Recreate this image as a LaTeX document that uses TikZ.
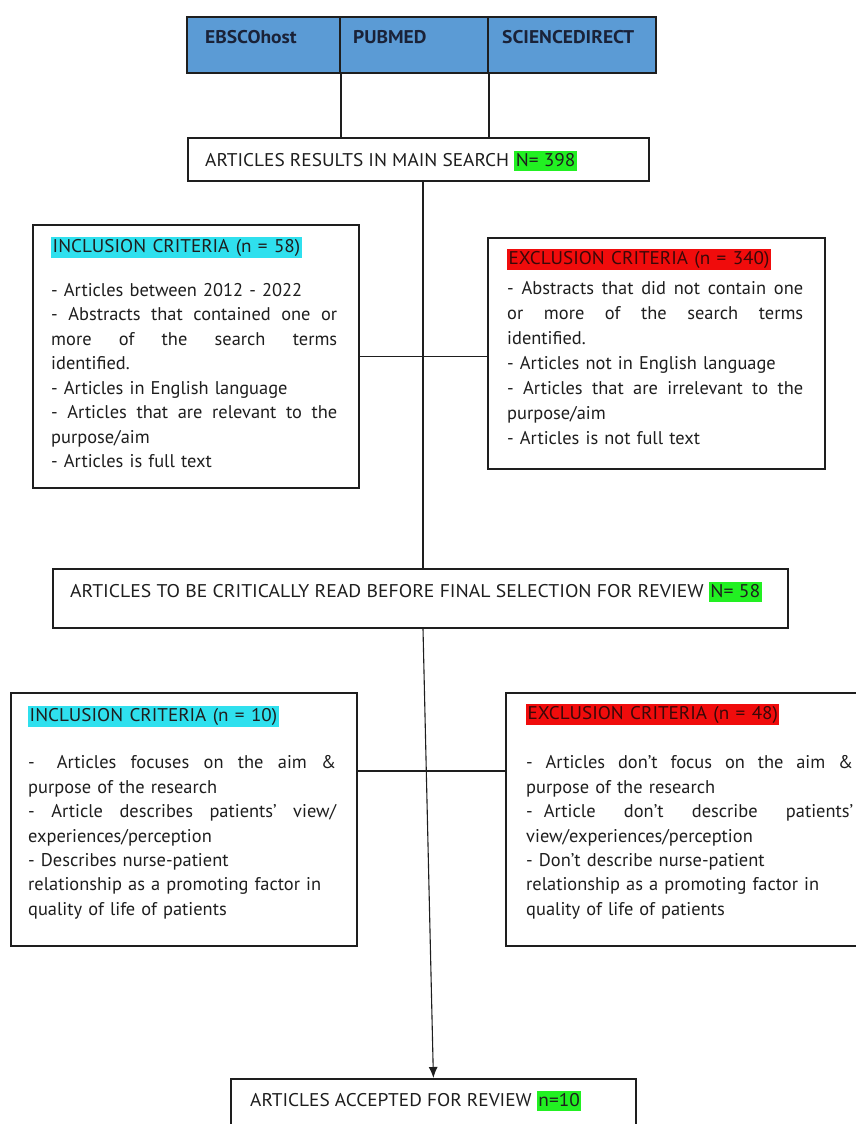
\documentclass[tikz,border=0pt]{standalone}
\usepackage{fontspec}
\setmainfont{PT Sans}
\usetikzlibrary{arrows.meta}
\definecolor{dbblue}{HTML}{5B9BD5}
\definecolor{hlcyan}{HTML}{2FE0EE}
\definecolor{hlred}{HTML}{F00C0C}
\definecolor{hlgreen}{HTML}{22F022}
\definecolor{ink}{HTML}{1E1E1E}
\definecolor{navy}{HTML}{1A2238}
\definecolor{redink}{HTML}{3A0808}
\newcommand{\hlt}[2]{{\setlength{\fboxsep}{1.5pt}\colorbox{#1}{\vphantom{Ay}#2}}}
\newcommand{\jl}[2]{{\spaceskip=0.25em plus 20em minus 0.05em\makebox[#1][s]{#2}}}
\newcommand{\wc}[2][1.06]{\scalebox{#1}[1]{#2}}
\begin{document}
\begin{tikzpicture}[x=1pt,y=-1pt,
  box/.style={draw=ink, line width=1.8pt, fill=white, inner sep=0pt, anchor=north west},
  cell/.style={box, fill=dbblue, minimum height=56pt},
  conn/.style={draw=ink, line width=1.5pt},
  txt/.style={inner sep=0pt, anchor=base west, text=ink, font=\fontsize{18.4}{24.5}\selectfont},
  para/.style={txt, align=left, text width=#1},
  dbt/.style={txt, text=navy, font=\fontsize{18.4}{24.5}\selectfont\bfseries},
]
\useasboundingbox (0,0) rectangle (856,1124);
\fill[white] (0,0) rectangle (856,1124);

% databases
\node[cell, minimum width=153pt] (ebsco) at (186,16) {};
\node[cell, minimum width=148pt] (pubmed) at (339,16) {};
\node[cell, minimum width=168pt] (sdir) at (487,16) {};
\node[dbt] (ebscot) at (205,43.5) {\wc{EBSCOhost}};
\node[dbt] (pubmedt) at (353,43.5) {\wc{PUBMED}};
\node[dbt] (sdirt) at (502,43.5) {\wc{SCIENCEDIRECT}};

% main search
\node[box, minimum width=461pt, minimum height=43pt] (main) at (187,137) {};
\node[txt] (maint) at (205,166) {\wc[1.05]{ARTICLES RESULTS IN MAIN SEARCH \hlt{hlgreen}{N= 398}}};

% inclusion 1
\node[box, minimum width=326pt, minimum height=263pt] (inc1) at (32,224) {};
\node[para=286pt] (inc1t) at (51,252) {\hlt{hlcyan}{\wc[1.04]{INCLUSION CRITERIA (n = 58)}}\\[19.5pt]
- Articles between 2012 - 2022\\
\jl{286pt}{- Abstracts that contained one or}\\
\jl{286pt}{more of the search terms}\\
identified.\\
- Articles in English language\\
\jl{286pt}{- Articles that are relevant to the}\\
purpose/aim\\
- Articles is full text};

% exclusion 1
\node[box, minimum width=337pt, minimum height=231pt] (exc1) at (487,237) {};
\node[para=296pt, font=\fontsize{18.4}{25}\selectfont] (exc1t) at (507,264) {\hlt{hlred}{\textcolor{redink}{\wc[1.04]{EXCLUSION CRITERIA (n = 340)}}}\\[5pt]
\jl{296pt}{- Abstracts that did not contain one}\\
\jl{296pt}{or more of the search terms}\\
identified.\\
- Articles not in English language\\
\jl{296pt}{- Articles that are irrelevant to the}\\
purpose/aim\\
- Articles is not full text};

% critical reading
\node[box, minimum width=735pt, minimum height=59pt] (crit) at (52,568) {};
\node[txt] (critt) at (70,597) {\wc[1.07]{ARTICLES TO BE CRITICALLY READ BEFORE FINAL SELECTION FOR REVIEW \hlt{hlgreen}{N= 58}}};

% inclusion 2
\node[box, minimum width=346pt, minimum height=253pt] (inc2) at (10,692) {};
\node[para=308pt, font=\fontsize{18.4}{24.4}\selectfont] (inc2t) at (28,721) {\hlt{hlcyan}{\wc[1.04]{INCLUSION CRITERIA (n = 10)}}\\[23.5pt]
\jl{308pt}{-\hspace{1.2em}Articles focuses on the aim \&}\\
purpose of the research\\
\jl{308pt}{- Article describes patients’ view/}\\
experiences/perception\\
- Describes nurse-patient\\
relationship as a promoting factor in\\
quality of life of patients};

% exclusion 2
\node[box, minimum width=351pt, minimum height=253pt] (exc2) at (505,692) {};
\node[para=327pt, font=\fontsize{18.4}{24.4}\selectfont] (exc2t) at (526,719) {\hlt{hlred}{\textcolor{redink}{\wc[1.04]{EXCLUSION CRITERIA (n = 48)}}}\\[25.5pt]
\jl{327pt}{- Articles don’t focus on the aim \&}\\
purpose of the research\\
\jl{327pt}{-\hspace{0.6em}Article don’t describe patients’}\\
view/experiences/perception\\
- Don’t describe nurse-patient\\
relationship as a promoting factor in\\
quality of life of patients};

% final
\node[box, minimum width=405pt, minimum height=70pt] (final) at (230,1078) {};
\node[txt] (finalt) at (250,1106) {\wc[1.05]{ARTICLES ACCEPTED FOR REVIEW \hlt{hlgreen}{n=10}}};

% connectors
\coordinate (spine) at (423,0);
\draw[conn] (ebsco.south east) -- (ebsco.south east |- main.north);
\draw[conn] (pubmed.south east) -- (pubmed.south east |- main.north);
\draw[conn] (main.south -| spine) -- (crit.north -| spine);
\draw[conn] (inc1.east) -- (inc1.east -| exc1.west);
\draw[conn] ([yshift=48.5pt]inc2.east) -- ([yshift=48.5pt]inc2.east -| exc2.west);
\draw[conn, line width=1.1pt, -{Latex[length=11pt,width=9pt]}] (crit.south -| spine) -- (final.north);
\end{tikzpicture}
\end{document}
